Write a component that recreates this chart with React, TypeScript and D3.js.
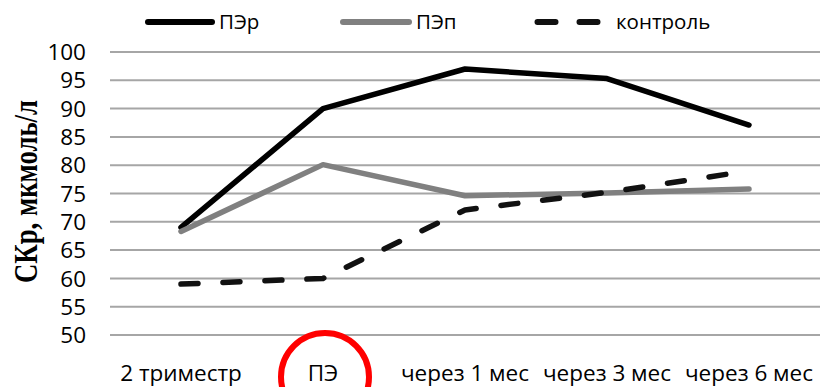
import React from "react";
import * as d3 from "d3";

const categories = ["2 триместр", "ПЭ", "через 1 мес", "через 3 мес", "через 6 мес"];
const perValues = [69, 90, 97, 95.3, 87.1];
const pepValues = [68.3, 80.1, 74.6, 75.1, 75.8];
const controlValues = [59, 60, 72.1, 75.2, 79];
const yTicks = [50, 55, 60, 65, 70, 75, 80, 85, 90, 95, 100];
const seriesNames = ["ПЭр", "ПЭп", "контроль"];

const W = 821;
const H = 387;

export default function App() {
  const x = d3.scaleBand<string>().domain(categories).range([110, 820]);
  const y = d3.scaleLinear().domain([50, 100]).range([335, 52]);
  const cx = (c: string) => (x(c) ?? 0) + x.bandwidth() / 2;
  const line = d3
    .line<number>()
    .x((_, i) => cx(categories[i]))
    .y((d) => y(d));

  const series = [
    { name: seriesNames[0], values: perValues, color: "#000000", dash: undefined as string | undefined },
    { name: seriesNames[1], values: pepValues, color: "#808080", dash: undefined },
    { name: seriesNames[2], values: controlValues, color: "#111111", dash: "17 25" },
  ];

  const legend = [
    { x1: 148, x2: 212, tx: 219, color: "#000000", dash: undefined as string | undefined },
    { x1: 343, x2: 409, tx: 416, color: "#808080", dash: undefined },
    { x1: 537.5, x2: 597.5, tx: 616, color: "#111111", dash: "18 24" },
  ];

  const font = "'Open Sans', 'Noto Sans', sans-serif";
  const pe = cx(categories[1]);

  return (
    <svg
      width={W}
      height={H}
      style={{ position: "absolute", left: 0, top: 0, background: "#fff" }}
    >
      <rect x={0} y={0} width={W} height={H} fill="#fff" />
      {yTicks.map((t) => (
        <g key={t}>
          <line x1={110} x2={820} y1={y(t)} y2={y(t)} stroke="#a6a6a6" strokeWidth={2} />
          <text
            x={86}
            y={y(t)}
            dy="0.36em"
            textAnchor="end"
            fontFamily={font}
            fontSize={22.5}
            fill="#000"
          >
            {t}
          </text>
        </g>
      ))}
      {categories.map((c) => (
        <text
          key={c}
          x={cx(c)}
          y={381}
          textAnchor="middle"
          fontFamily={font}
          fontSize={22.5}
          fill="#000"
        >
          {c}
        </text>
      ))}
      <text
        transform={`translate(37,191.5) rotate(-90)`}
        textAnchor="middle"
        fontFamily="'Liberation Serif', 'Times New Roman', serif"
        fontWeight="bold"
        fontSize={33}
        textLength={183}
        lengthAdjust="spacingAndGlyphs"
        fill="#000"
      >
        СКр, мкмоль/л
      </text>
      {series.map((s) => (
        <path
          key={s.name}
          d={line(s.values) ?? ""}
          fill="none"
          stroke={s.color}
          strokeWidth={5.5}
          strokeDasharray={s.dash}
          strokeLinecap="round"
          strokeLinejoin="round"
        />
      ))}
      {legend.map((l, i) => (
        <g key={i}>
          <line
            x1={l.x1}
            x2={l.x2}
            y1={22}
            y2={22}
            stroke={l.color}
            strokeWidth={6}
            strokeLinecap="round"
            strokeDasharray={l.dash}
          />
          <text x={l.tx} y={29} fontFamily={font} fontSize={20.5} fill="#000">
            {seriesNames[i]}
          </text>
        </g>
      ))}
      <circle cx={pe + 2} cy={377} r={44} fill="none" stroke="#ff0000" strokeWidth={6} />
    </svg>
  );
}
